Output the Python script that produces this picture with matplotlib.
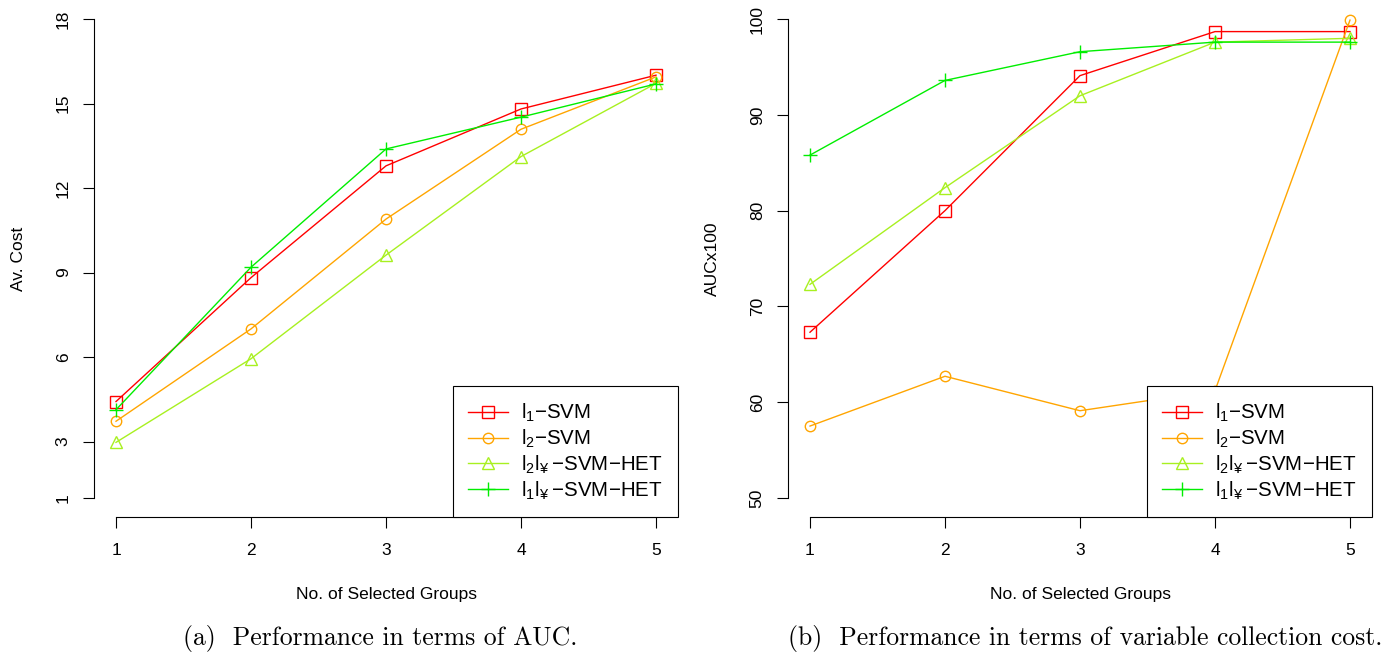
import matplotlib
matplotlib.use("Agg")
import matplotlib.pyplot as plt

plt.rcParams['font.family'] = ['Liberation Sans', 'DejaVu Sans']
plt.rcParams['mathtext.fontset'] = 'custom'
plt.rcParams['mathtext.rm'] = 'Liberation Sans'

# number of selected groups
groups = [1, 2, 3, 4, 5]

# (a) average cost
cost_l1 = [4.42, 8.82, 12.79, 14.81, 16.01]
cost_l2 = [3.72, 7.00, 10.90, 14.09, 15.95]
cost_l2linf = [2.97, 5.94, 9.62, 13.12, 15.72]
cost_l1linf = [4.13, 9.19, 13.39, 14.52, 15.70]

# (b) AUC x 100
auc_l1 = [67.3, 80.0, 94.1, 98.7, 98.7]
auc_l2 = [57.5, 62.7, 59.1, 61.2, 99.9]
auc_l2linf = [72.3, 82.4, 92.0, 97.6, 98.0]
auc_l1linf = [85.8, 93.6, 96.6, 97.6, 97.6]

labels = [r"$\mathregular{l_1}$" + "\u2212SVM",
          r"$\mathregular{l_2}$" + "\u2212SVM",
          r"$\mathregular{l_2l_{¥}}$" + "\u2009\u2212SVM\u2212HET",
          r"$\mathregular{l_1l_{¥}}$" + "\u2009\u2212SVM\u2212HET"]
colors = ['#FF0000', '#FFA500', '#A8F020', '#00EE00']
markers = ['s', 'o', '^', '+']
msizes = [8, 7.5, 9, 10]


def draw_panel(ax, series, yticks, ylabel):
    for vals, lab, col, mk, ms in zip(series, labels, colors, markers, msizes):
        ax.plot(groups, vals, color=col, marker=mk, markersize=ms,
                markerfacecolor='none', markeredgecolor=col, markeredgewidth=1.0,
                linewidth=1.0, label=lab)
    lo, hi = yticks[0], yticks[-1]
    pad = 0.04 * (hi - lo)
    ax.set_xlim(1 - 0.16, 5 + 0.16)
    ax.set_ylim(lo - pad, hi + pad)
    ax.set_xticks(groups)
    ax.set_yticks(yticks)
    ax.spines['top'].set_visible(False)
    ax.spines['right'].set_visible(False)
    ax.spines['left'].set_bounds(lo, hi)
    ax.spines['bottom'].set_bounds(1, 5)
    for s in ('left', 'bottom'):
        ax.spines[s].set_linewidth(0.8)
    ax.tick_params(axis='both', direction='out', length=8, width=0.8, labelsize=12.5)
    ax.tick_params(axis='y', pad=9)
    ax.tick_params(axis='x', pad=11)
    for t in ax.get_yticklabels():
        t.set_rotation(90)
        t.set_va('center')
    ax.set_xlabel("No. of Selected Groups", fontsize=12.5)
    ax.set_ylabel(ylabel, fontsize=12.5)
    ax.xaxis.set_label_coords(0.5, -0.149)
    ax.xaxis.label.set_va('center')
    ax.yaxis.set_label_coords(-0.131, 0.5)
    ax.yaxis.label.set_va('center')
    leg = ax.legend(loc='lower right', bbox_to_anchor=(1.0, 0.0), borderaxespad=0,
                    fancybox=False, framealpha=1, edgecolor='black', fontsize=14.8,
                    handlelength=1.95, handletextpad=0.6, labelspacing=0.17,
                    borderpad=0.75)
    leg.get_frame().set_linewidth(0.8)


fig = plt.figure(figsize=(13.97, 6.62), dpi=100)
ax1 = fig.add_axes([94.4 / 1397, 1 - 517 / 662, 583.2 / 1397, 517 / 662])
ax2 = fig.add_axes([788.4 / 1397, 1 - 517 / 662, 583.2 / 1397, 517 / 662])

draw_panel(ax1, [cost_l1, cost_l2, cost_l2linf, cost_l1linf],
           [1, 3, 6, 9, 12, 15, 18], "Av. Cost")
draw_panel(ax2, [auc_l1, auc_l2, auc_l2linf, auc_l1linf],
           [50, 60, 70, 80, 90, 100], "AUCx100")

fig.text(380 / 1397, 1 - 638 / 662, "(a)  Performance in terms of AUC.",
         family='cmr10', fontsize=18.5, ha='center', va='center')
fig.text(1085 / 1397, 1 - 638 / 662,
         "(b)  Performance in terms of variable collection cost.",
         family='cmr10', fontsize=18.5, ha='center', va='center')

fig.savefig("out.png", dpi=100)
